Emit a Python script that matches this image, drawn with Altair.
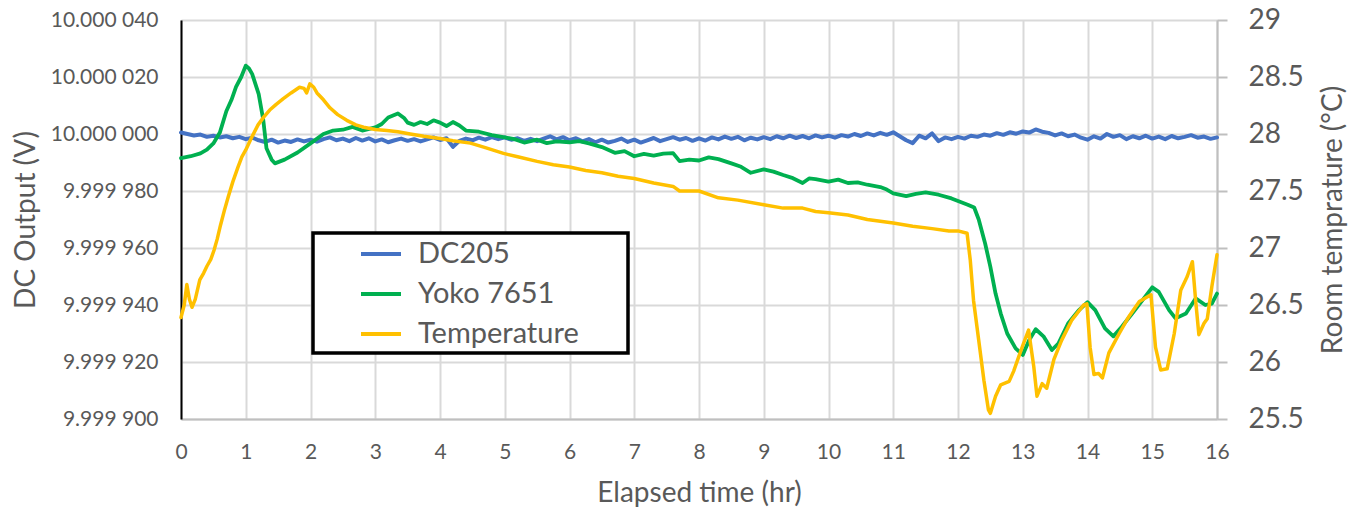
import altair as alt
import pandas as pd

FONT = "Lato"
TXT = "#595959"
GRID = "#D9D9D9"

hour_ticks = list(range(0, 17))
volt_ticks = [-100, -80, -60, -40, -20, 0, 20, 40]          # µV from 10 V
volt_tick_labels = ["9.999 900", "9.999 920", "9.999 940", "9.999 960",
                    "9.999 980", "10.000 000", "10.000 020", "10.000 040"]
temp_ticks = [25.5, 26, 26.5, 27, 27.5, 28, 28.5, 29]

series_names = ["DC205", "Yoko 7651", "Temperature"]
series_colors = ["#4472C4", "#00B050", "#FFC000"]

# DC205 output, deviation from 10 V in µV: (hours, µV)
dc205 = [
    (0.0, 0.5), (0.1, 0.0), (0.2, -0.5), (0.3, -0.2), (0.4, -1.0), (0.5, -0.6), (0.6, -1.2), (0.7, -0.8), (0.8, -1.5), (0.9, -1.0),
    (1.0, -1.8), (1.1, -1.3), (1.2, -2.2), (1.3, -2.8), (1.4, -2.0), (1.5, -3.0), (1.6, -2.3), (1.7, -2.8), (1.8, -1.9), (1.9, -2.6),
    (2.0, -2.0), (2.1, -2.7), (2.2, -1.8), (2.3, -1.2), (2.4, -2.2), (2.5, -1.6), (2.6, -2.5), (2.7, -1.4), (2.8, -2.3), (2.9, -1.5),
    (3.0, -2.6), (3.1, -1.9), (3.2, -2.9), (3.3, -2.2), (3.4, -1.6), (3.5, -2.4), (3.6, -1.8), (3.7, -2.6), (3.8, -1.9), (3.9, -1.2),
    (4.0, -2.1), (4.1, -1.5), (4.2, -4.5), (4.3, -2.4), (4.4, -1.6), (4.5, -2.2), (4.6, -1.3), (4.7, -2.0), (4.8, -1.1), (4.9, -1.8),
    (5.0, -1.2), (5.1, -2.0), (5.2, -1.5), (5.3, -2.4), (5.4, -1.7), (5.5, -2.5), (5.6, -1.6), (5.7, -0.8), (5.8, -1.9), (5.9, -1.1),
    (6.0, -2.2), (6.1, -1.5), (6.2, -2.6), (6.3, -1.8), (6.4, -2.9), (6.5, -2.0), (6.6, -3.0), (6.7, -2.4), (6.8, -1.6), (6.9, -2.8),
    (7.0, -2.0), (7.1, -3.0), (7.2, -2.2), (7.3, -1.4), (7.4, -2.5), (7.5, -1.8), (7.6, -1.1), (7.7, -2.0), (7.8, -1.4), (7.9, -2.4),
    (8.0, -1.5), (8.1, -2.3), (8.2, -1.2), (8.3, -1.9), (8.4, -0.9), (8.5, -1.7), (8.6, -1.0), (8.7, -2.2), (8.8, -1.3), (8.9, -1.9),
    (9.0, -1.1), (9.1, -1.8), (9.2, -0.8), (9.3, -1.5), (9.4, -0.6), (9.5, -1.4), (9.6, -0.7), (9.7, -1.5), (9.8, -0.5), (9.9, -1.2),
    (10.0, -0.6), (10.1, -1.3), (10.2, -0.4), (10.3, -0.9), (10.4, 0.0), (10.5, -0.7), (10.6, 0.2), (10.7, -0.5), (10.8, 0.4), (10.9, -0.3),
    (11.0, 0.6), (11.1, -0.8), (11.2, -2.2), (11.3, -3.2), (11.4, -0.6), (11.5, -1.5), (11.6, 0.2), (11.7, -2.5), (11.8, -1.2), (11.9, -1.8),
    (12.0, -1.0), (12.1, -1.6), (12.2, -0.6), (12.3, -1.0), (12.4, -0.2), (12.5, -0.6), (12.6, 0.3), (12.7, -0.3), (12.8, 0.6), (12.9, 0.1),
    (13.0, 0.9), (13.1, 0.5), (13.2, 1.6), (13.3, 0.8), (13.4, 0.4), (13.5, -0.5), (13.6, 0.2), (13.7, -0.8), (13.8, -0.2), (13.9, -1.3),
    (14.0, -2.0), (14.1, -0.8), (14.2, -1.6), (14.3, 0.0), (14.4, -1.0), (14.5, -0.4), (14.6, -1.8), (14.7, -0.8), (14.8, -1.5), (14.9, -0.6),
    (15.0, -1.6), (15.1, -0.9), (15.2, -1.8), (15.3, -0.7), (15.4, -1.5), (15.5, -1.0), (15.6, -0.4), (15.7, -1.3), (15.8, -0.9), (15.9, -1.7),
    (16.0, -1.2),
]

# Yokogawa 7651 output, deviation from 10 V in µV: (hours, µV)
yoko = [
    (0.0, -8.5), (0.15, -7.8), (0.3, -6.8), (0.4, -5.5), (0.5, -3.3), (0.6, 0.5), (0.7, 8.0), (0.78, 12.0), (0.85, 16.5), (0.93, 20.0),
    (1.0, 24.0), (1.05, 23.0), (1.1, 21.0), (1.2, 14.0), (1.27, 5.0), (1.32, -5.0), (1.4, -9.0), (1.45, -10.3), (1.6, -9.0), (1.8, -6.5),
    (2.0, -3.3), (2.2, 0.0), (2.35, 1.2), (2.5, 1.5), (2.65, 2.5), (2.8, 1.2), (3.0, 2.3), (3.1, 3.5), (3.2, 5.8), (3.35, 7.2),
    (3.45, 5.5), (3.5, 4.0), (3.6, 3.2), (3.7, 4.2), (3.8, 3.5), (3.9, 4.8), (4.0, 4.0), (4.1, 2.8), (4.2, 4.2), (4.3, 3.0),
    (4.4, 1.2), (4.6, 0.8), (4.8, -0.4), (5.0, -1.2), (5.15, -1.8), (5.3, -3.0), (5.5, -2.0), (5.65, -3.2), (5.8, -2.6), (6.0, -2.9),
    (6.15, -2.5), (6.3, -3.3), (6.5, -4.6), (6.7, -6.6), (6.85, -6.0), (7.0, -7.8), (7.15, -7.0), (7.3, -7.6), (7.45, -6.9), (7.6, -6.7),
    (7.7, -9.5), (7.85, -9.0), (8.0, -9.3), (8.15, -8.2), (8.3, -8.8), (8.5, -10.3), (8.65, -11.5), (8.8, -13.6), (9.0, -12.4), (9.15, -13.2),
    (9.3, -14.4), (9.45, -15.5), (9.6, -17.2), (9.7, -15.6), (9.8, -15.8), (10.0, -16.7), (10.15, -16.0), (10.3, -17.2), (10.45, -17.0), (10.6, -17.8),
    (10.8, -18.6), (10.9, -19.5), (11.0, -20.8), (11.2, -21.8), (11.35, -21.0), (11.5, -20.5), (11.7, -21.3), (11.9, -22.6), (12.0, -23.5), (12.15, -24.8),
    (12.25, -25.8), (12.32, -30.0), (12.42, -38.5), (12.5, -46.6), (12.58, -56.0), (12.66, -63.0), (12.76, -70.0), (12.89, -75.2), (13.0, -77.5), (13.1, -72.3),
    (13.2, -68.5), (13.32, -71.0), (13.45, -75.8), (13.55, -73.5), (13.7, -66.5), (13.86, -62.0), (14.0, -59.0), (14.12, -61.8), (14.27, -68.2), (14.4, -71.0),
    (14.53, -67.6), (14.69, -63.0), (14.85, -58.3), (15.0, -53.8), (15.1, -55.4), (15.26, -61.8), (15.36, -64.7), (15.52, -63.0), (15.67, -57.7), (15.82, -60.0),
    (15.92, -59.5), (16.0, -56.0),
]

# Room temperature in °C: (hours, °C)
temperature = [
    (0.0, 26.39), (0.05, 26.5), (0.09, 26.68), (0.13, 26.55), (0.17, 26.48), (0.22, 26.55), (0.29, 26.72), (0.35, 26.78), (0.4, 26.84), (0.46, 26.9),
    (0.51, 26.98), (0.56, 27.08), (0.61, 27.2), (0.67, 27.33), (0.73, 27.45), (0.8, 27.58), (0.88, 27.71), (0.94, 27.8), (1.0, 27.86), (1.1, 27.98),
    (1.19, 28.08), (1.28, 28.15), (1.37, 28.21), (1.47, 28.26), (1.58, 28.31), (1.7, 28.36), (1.83, 28.41), (1.9, 28.40), (1.94, 28.36), (1.99, 28.44),
    (2.05, 28.41), (2.1, 28.36), (2.2, 28.3), (2.3, 28.23), (2.42, 28.17), (2.56, 28.12), (2.7, 28.08), (2.82, 28.06), (3.0, 28.04), (3.18, 28.03),
    (3.35, 28.02), (3.54, 28.0), (3.75, 27.98), (4.0, 27.96), (4.2, 27.94), (4.47, 27.92), (4.7, 27.88), (4.98, 27.83), (5.2, 27.8), (5.5, 27.76),
    (5.75, 27.73), (6.0, 27.71), (6.25, 27.68), (6.5, 27.66), (6.75, 27.63), (7.0, 27.61), (7.3, 27.57), (7.6, 27.54), (7.7, 27.50), (8.0, 27.50),
    (8.3, 27.44), (8.6, 27.42), (9.0, 27.38), (9.3, 27.35), (9.6, 27.35), (9.8, 27.32), (10.0, 27.31), (10.3, 27.29), (10.6, 27.25), (11.0, 27.22),
    (11.3, 27.19), (11.6, 27.17), (11.86, 27.15), (12.0, 27.15), (12.14, 27.13), (12.19, 26.89), (12.24, 26.54), (12.32, 26.19), (12.4, 25.84), (12.47, 25.58),
    (12.5, 25.55), (12.58, 25.70), (12.66, 25.80), (12.79, 25.83), (12.86, 25.92), (12.94, 26.05), (13.01, 26.16), (13.09, 26.28), (13.17, 25.96), (13.22, 25.70),
    (13.3, 25.81), (13.37, 25.77), (13.48, 26.02), (13.6, 26.19), (13.76, 26.37), (13.94, 26.50), (13.99, 26.51), (14.04, 26.13), (14.1, 25.89), (14.17, 25.90),
    (14.23, 25.86), (14.33, 26.08), (14.49, 26.25), (14.64, 26.40), (14.8, 26.53), (14.98, 26.59), (15.05, 26.13), (15.13, 25.93), (15.23, 25.94), (15.34, 26.25),
    (15.44, 26.63), (15.54, 26.75), (15.62, 26.88), (15.67, 26.54), (15.72, 26.24), (15.8, 26.34), (15.85, 26.38), (15.92, 26.66), (16.0, 26.94),
]

df_dc = pd.DataFrame(dc205, columns=["t", "uv"]).assign(series=series_names[0])
df_yk = pd.DataFrame(yoko, columns=["t", "uv"]).assign(series=series_names[1])
df_tp = pd.DataFrame(temperature, columns=["t", "temp"]).assign(series=series_names[2])

volt_label_expr = "[" + ",".join(f"'{s}'" for s in volt_tick_labels) + "][round((datum.value + 100) / 20)]"

x_enc = alt.X(
    "t:Q",
    scale=alt.Scale(domain=[0, 16], nice=False, zero=False),
    axis=alt.Axis(
        values=hour_ticks, title="Elapsed time (hr)", grid=True, gridColor=GRID, gridWidth=2,
        domainColor="#BFBFBF", domainWidth=2, ticks=False, labelPadding=22, labelFlush=False,
        labelFontSize=21, labelColor=TXT, labelFont=FONT,
        titleFontSize=28, titleColor=TXT, titleFont=FONT, titleFontWeight="normal", titlePadding=17,
    ),
)

y_volt = alt.Y(
    "uv:Q",
    scale=alt.Scale(domain=[-100, 40], nice=False, zero=False),
    axis=alt.Axis(
        orient="left", values=volt_ticks, labelExpr=volt_label_expr, title="DC Output (V)",
        grid=True, gridColor=GRID, gridWidth=2, domainColor="black", domainWidth=2, ticks=False,
        labelPadding=23, labelFontSize=21, labelColor=TXT, labelFont=FONT, labelFlush=False,
        titleFontSize=28, titleColor=TXT, titleFont=FONT, titleFontWeight="normal", titlePadding=10,
    ),
)

y_temp = alt.Y(
    "temp:Q",
    scale=alt.Scale(domain=[25.5, 29], nice=False, zero=False),
    axis=alt.Axis(
        orient="right", values=temp_ticks, format="~g", title="Room temprature (°C)",
        grid=False, domainColor="#BFBFBF", domainWidth=2, ticks=True, tickColor="#BFBFBF",
        tickWidth=2, tickSize=10, labelPadding=21, labelFontSize=28, labelColor=TXT, labelFont=FONT,
        labelFlush=False,
        titleFontSize=28, titleColor=TXT, titleFont=FONT, titleFontWeight="normal",
        titleAngle=270, titleBaseline="top", titlePadding=16,
    ),
)

color_enc = alt.Color(
    "series:N",
    scale=alt.Scale(domain=series_names, range=series_colors),
    legend=alt.Legend(
        title=None, orient="none", legendX=132, legendY=212,
        symbolType="stroke", symbolSize=1600, symbolStrokeWidth=4, symbolOffset=46,
        labelOffset=15, labelFontSize=29, labelColor=TXT, labelFont=FONT, labelLimit=400,
        padding=0, rowPadding=3,
    ),
)

line_kw = dict(strokeJoin="round", strokeCap="round")

blue = alt.Chart(df_dc).mark_line(strokeWidth=4, **line_kw).encode(x=x_enc, y=y_volt, color=color_enc)
green = alt.Chart(df_yk).mark_line(strokeWidth=3.8, **line_kw).encode(x=x_enc, y=y_volt, color=color_enc)
yellow = alt.Chart(df_tp).mark_line(strokeWidth=3.5, **line_kw).encode(x=x_enc, y=y_temp, color=color_enc)

# white, black-bordered frame behind the legend entries
legend_frame = alt.Chart(pd.DataFrame({"frame": [0]})).mark_rect(
    fill="white", stroke="black", strokeWidth=3.5
).encode(x=alt.value(132), x2=alt.value(447), y=alt.value(213), y2=alt.value(333))

chart = (
    alt.layer(alt.layer(blue, green), yellow, legend_frame)
    .resolve_scale(y="independent")
    .properties(
        width=1036, height=399,
        autosize=alt.AutoSizeParams(type="none"),
        padding={"left": 173, "top": 12, "right": 131, "bottom": 90},
    )
    .configure_view(strokeWidth=0)
    .configure(font=FONT)
)

chart.save("out.html", embed_options={"renderer": "svg", "actions": False})
